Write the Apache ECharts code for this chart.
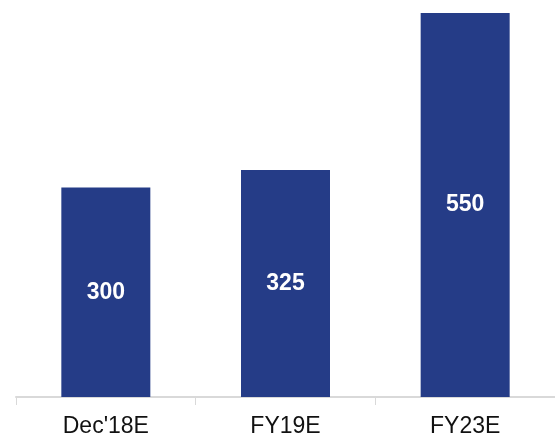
<!DOCTYPE html>
<html>
<head>
<meta charset="utf-8">
<script src="https://cdn.jsdelivr.net/npm/echarts@6/dist/echarts.min.js"></script>
<style>
  html, body { margin: 0; padding: 0; background: #ffffff; }
  #chart { width: 555px; height: 439px; }
</style>
</head>
<body>
<div id="chart"></div>
<script>
// Periods and their values
const categories = ["Dec'18E", "FY19E", "FY23E"];
const values = [300, 325, 550];

const chart = echarts.init(document.getElementById('chart'), null, { renderer: 'canvas' });

chart.setOption({
  animation: false,
  backgroundColor: '#ffffff',
  grid: { left: 16, right: -1, top: 13, bottom: 42, containLabel: false },
  xAxis: {
    type: 'category',
    data: categories,
    boundaryGap: true,
    axisLine: { show: true, lineStyle: { color: '#d9d9d9', width: 2 } },
    axisTick: { show: true, length: 8, lineStyle: { color: '#d9d9d9', width: 1 } },
    axisLabel: {
      margin: 18,
      color: '#111111',
      fontFamily: 'Liberation Sans, Arial, sans-serif',
      fontSize: 23
    }
  },
  yAxis: {
    type: 'value',
    min: 0,
    max: 550,
    show: false,
    splitLine: { show: false }
  },
  series: [{
    type: 'bar',
    data: values,
    barWidth: 89,
    itemStyle: { color: '#253c87' },
    label: {
      show: true,
      position: 'inside',
      color: '#ffffff',
      fontFamily: 'Liberation Sans, Arial, sans-serif',
      fontWeight: 'bold',
      fontSize: 23
    }
  }]
});
</script>
</body>
</html>
